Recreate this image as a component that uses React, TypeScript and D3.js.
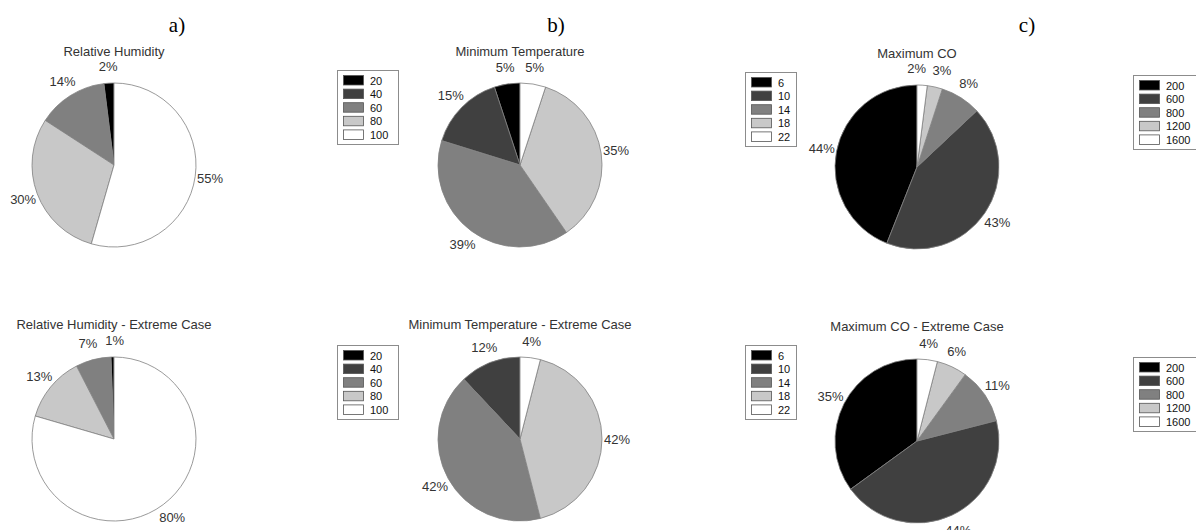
import { pie, arc, PieArcDatum } from "d3";

// legend categories
const humidityLevels = ["20", "40", "60", "80", "100"];
const temperatureLevels = ["6", "10", "14", "18", "22"];
const coLevels = ["200", "600", "800", "1200", "1600"];

// shares (%) per category, same order as the levels
const humidityShare = [2, 0, 14, 30, 55];
const humidityExtremeShare = [0.6, 0, 7, 13, 80];
const temperatureShare = [5, 15, 39, 35, 5];
const temperatureExtremeShare = [0, 12, 42, 42, 4];
const coShare = [44, 43, 8, 3, 2];
const coExtremeShare = [35, 44, 11, 6, 4];

const fills = ["#000000", "#404040", "#808080", "#c8c8c8", "#ffffff"];

const R = 82;
const FONT = "'Liberation Sans', Arial, sans-serif";

const panels = [
  {
    letter: "a)", letterX: 177, cx: 114, dy: 0,
    legendX: 337, legendW: 61, legendTop: [70, 345],
    levels: humidityLevels,
    charts: [
      { title: "Relative Humidity", values: humidityShare },
      { title: "Relative Humidity - Extreme Case", values: humidityExtremeShare },
    ],
  },
  {
    letter: "b)", letterX: 556, cx: 520, dy: 0,
    legendX: 745, legendW: 51, legendTop: [72, 345],
    levels: temperatureLevels,
    charts: [
      { title: "Minimum Temperature", values: temperatureShare },
      { title: "Minimum Temperature - Extreme Case", values: temperatureExtremeShare },
    ],
  },
  {
    letter: "c)", letterX: 1027, cx: 917, dy: 2,
    legendX: 1133, legendW: 72, legendTop: [75, 357],
    levels: coLevels,
    charts: [
      { title: "Maximum CO", values: coShare },
      { title: "Maximum CO - Extreme Case", values: coExtremeShare },
    ],
  },
];

const rowCy = [165, 439];

const pieGen = pie<number>().sort(null).startAngle(0).endAngle(-2 * Math.PI);
const arcGen = arc<PieArcDatum<number>>().innerRadius(0).outerRadius(R);

function Pie({ cx, cy, title, values }: { cx: number; cy: number; title: string; values: number[] }) {
  const arcs = pieGen(values);

  // place labels just outside the rim, then nudge apart the ones that collide
  const labels = arcs
    .map((a, i) => {
      const mid = (a.startAngle + a.endAngle) / 2;
      const sx = Math.sin(mid);
      const sy = -Math.cos(mid);
      const text = `${Math.round(a.value)}%`;
      const w = (text.length - 1) * 7.2 + 11.6;
      return { i, v: a.value, text, w, x: R * sx + sx * (w / 2 + 2), y: R * sy + sy * 16.5 };
    })
    .filter((l) => l.v > 0)
    .sort((p, q) => p.x - q.x);
  for (let k = 1; k < labels.length; k++) {
    const p = labels[k - 1];
    const q = labels[k];
    if (Math.abs(p.y - q.y) < 13) {
      const need = p.w / 2 + q.w / 2 + 8 - (q.x - p.x);
      if (need > 0) {
        p.x -= need / 2;
        q.x += need / 2;
      }
    }
  }

  return (
    <g>
      <text x={cx} y={cy - R - 27 - (cy > 300 ? 1 : 0)} textAnchor="middle" fontFamily={FONT} fontSize={13} fill="#333">
        {title}
      </text>
      <g transform={`translate(${cx},${cy})`}>
        {arcs.map((a, i) =>
          a.value > 0 ? (
            <path key={i} d={arcGen(a) ?? ""} fill={fills[i]} stroke="#808080" strokeWidth={0.8} />
          ) : null
        )}
        {labels.map((l) => (
          <text key={"l" + l.i} x={l.x} y={l.y} textAnchor="middle" dominantBaseline="central"
            fontFamily={FONT} fontSize={13} fill="#333">
            {l.text}
          </text>
        ))}
      </g>
    </g>
  );
}

function Legend({ x, y, w, levels }: { x: number; y: number; w: number; levels: string[] }) {
  const step = 13.6;
  return (
    <g>
      <rect x={x + 0.5} y={y + 0.5} width={w} height={74} fill="#fff" stroke="#8c8c8c" strokeWidth={1} />
      {levels.map((lv, i) => (
        <g key={lv}>
          <rect x={x + 6.5} y={y + 5.5 + i * step} width={20} height={9.5} fill={fills[i]} stroke="#555" strokeWidth={0.8} />
          <text x={x + 33} y={y + 10.5 + i * step} dominantBaseline="central" fontFamily={FONT} fontSize={11} fill="#111">
            {lv}
          </text>
        </g>
      ))}
    </g>
  );
}

export default function App() {
  return (
    <svg width={1196} height={530} style={{ position: "absolute", left: 0, top: 0, background: "#fff" }}>
      {panels.map((p) => (
        <g key={p.letter}>
          <text x={p.letterX} y={32} textAnchor="middle" fontFamily="'Liberation Serif', 'Times New Roman', serif" fontSize={21} fill="#000">
            {p.letter}
          </text>
          {p.charts.map((c, r) => (
            <g key={c.title}>
              <Pie cx={p.cx} cy={rowCy[r] + p.dy} title={c.title} values={c.values} />
              <Legend x={p.legendX} y={p.legendTop[r]} w={p.legendW} levels={p.levels} />
            </g>
          ))}
        </g>
      ))}
    </svg>
  );
}
